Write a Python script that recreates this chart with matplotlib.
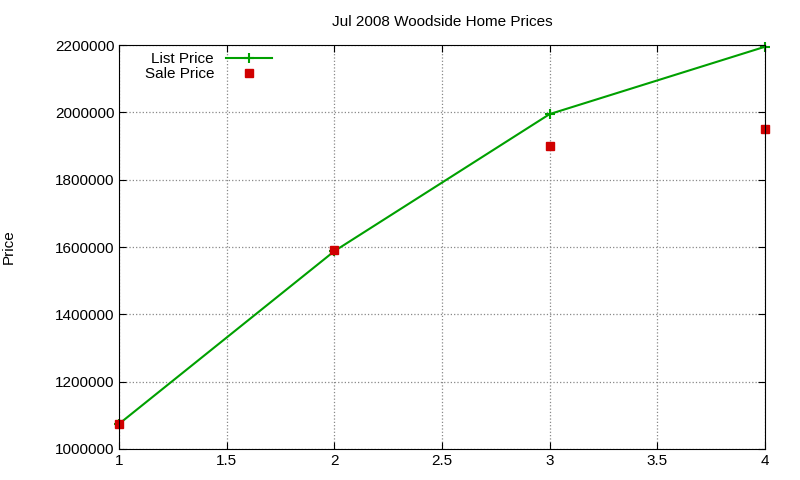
import matplotlib
matplotlib.use("Agg")
import matplotlib.pyplot as plt

x = [1, 2, 3, 4]
list_price = [1075000, 1588000, 1995000, 2195000]
sale_price = [1075000, 1590000, 1900000, 1950000]

plt.rcParams['font.family'] = ['Liberation Sans', 'DejaVu Sans']
fig = plt.figure(figsize=(8, 4.8), dpi=100)
ax = fig.add_axes([0.149, 0.0646, 0.807, 0.8414])
ax.plot(x, list_price, color='#00a000', lw=1.5, marker='+', ms=7, mew=1.5, label='List Price', clip_on=False)
ax.plot(x, sale_price, ls='none', color='#d00000', marker='s', ms=5.5, label='Sale Price', clip_on=False)
ax.set_xlim(1, 4)
ax.set_ylim(1000000, 2200000)
ax.set_xticks([1, 1.5, 2, 2.5, 3, 3.5, 4])
ax.set_xticklabels(['1', '1.5', '2', '2.5', '3', '3.5', '4'])
ax.set_yticks(range(1000000, 2200001, 200000))
ax.set_yticklabels([str(v) for v in range(1000000, 2200001, 200000)])
ax.tick_params(direction='in', top=True, right=True, labelsize=11, length=5)
ax.grid(True, color='#888888', ls=':', lw=0.9)
ax.set_ylabel('Price', fontsize=11, labelpad=28)
ax.set_title('Jul 2008 Woodside Home Prices', fontsize=11, pad=14)
leg = ax.legend(loc='upper left', bbox_to_anchor=(0.025, 1.005), markerfirst=False, frameon=False,
                fontsize=11, handlelength=3, borderaxespad=0.2, labelspacing=0.05)
for t in leg.get_texts():
    t.set_ha('right')
fig.savefig('out.png', dpi=100)
